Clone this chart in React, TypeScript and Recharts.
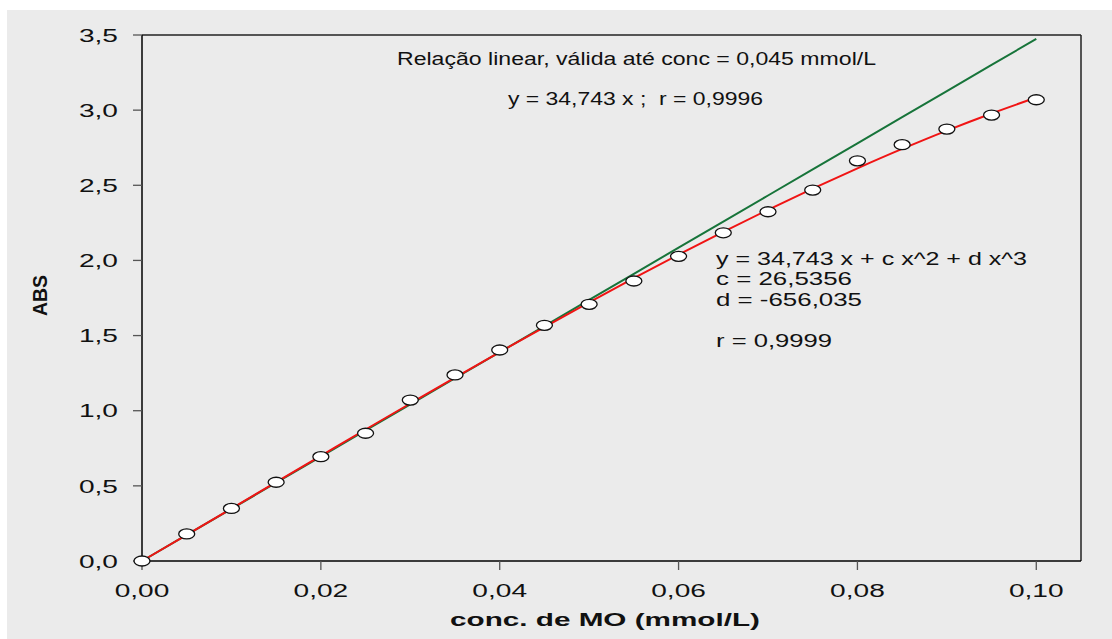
import React from 'react';
import { ComposedChart, Line, Scatter, XAxis, YAxis, ReferenceLine } from 'recharts';

const conc = [0, 0.005, 0.01, 0.015, 0.02, 0.025, 0.03, 0.035, 0.04, 0.045, 0.05, 0.055, 0.06, 0.065, 0.07, 0.075, 0.08, 0.085, 0.09, 0.095, 0.1];
const absMeasured = [0, 0.18, 0.35, 0.524, 0.694, 0.85, 1.071, 1.238, 1.404, 1.568, 1.708, 1.863, 2.027, 2.184, 2.324, 2.468, 2.663, 2.77, 2.874, 2.967, 3.069];
const absCubicFit = [0, 0.174, 0.349, 0.525, 0.7, 0.875, 1.048, 1.22, 1.39, 1.557, 1.721, 1.882, 2.038, 2.19, 2.337, 2.478, 2.613, 2.742, 2.864, 2.978, 3.084];
const absLinearFit = [0, 0.174, 0.347, 0.521, 0.695, 0.869, 1.042, 1.216, 1.39, 1.563, 1.737, 1.911, 2.085, 2.258, 2.432, 2.606, 2.779, 2.953, 3.127, 3.301, 3.474];
const xTicks = [0, 0.02, 0.04, 0.06, 0.08, 0.1];
const yTicks = [0, 0.5, 1, 1.5, 2, 2.5, 3, 3.5];

const xLabel = 'conc. de MO (mmol/L)';
const yLabel = 'ABS';
const noteLinear = 'Relação linear, válida até conc = 0,045 mmol/L';
const noteLinearEq = 'y = 34,743 x ;  r = 0,9996';
const noteCubic = ['y = 34,743 x + c x^2 + d x^3', 'c = 26,5356', 'd = -656,035', 'r = 0,9999'];

const data = conc.map((x, i) => ({ x, obs: absMeasured[i], cubic: absCubicFit[i], lin: absLinearFit[i] }));

const FONT = '"Liberation Sans", Arial, Helvetica, sans-serif';
const SX = 1.48;

const fmtX = (v: number) => v.toFixed(2).replace('.', ',');
const fmtY = (v: number) => v.toFixed(1).replace('.', ',');

const XTick = (props: any) => {
  const { x, y, payload } = props;
  return (
    <g transform={`translate(${x},${y})`}>
      <text x={0} y={0} dy="0.71em" textAnchor="middle" transform={`scale(${SX},1)`} fontFamily={FONT} fontSize={19} fill="#111">
        {fmtX(payload.value)}
      </text>
    </g>
  );
};

const YTick = (props: any) => {
  const { x, y, payload } = props;
  return (
    <g transform={`translate(${x},${y})`}>
      <text x={0} y={0} dy="0.355em" textAnchor="end" transform={`scale(${SX},1)`} fontFamily={FONT} fontSize={19} fill="#111">
        {fmtY(payload.value)}
      </text>
    </g>
  );
};

const Dot = (props: any) => {
  const { cx, cy } = props;
  return <ellipse cx={cx} cy={cy} rx={8} ry={5} fill="#ffffff" stroke="#111" strokeWidth={1.3} />;
};

export default function App() {
  const cubicLines = [
    { t: noteCubic[0], y: 265, w: 311 },
    { t: noteCubic[1], y: 285, w: 136 },
    { t: noteCubic[2], y: 306, w: 146 },
    { t: noteCubic[3], y: 347, w: 116 },
  ];
  return (
    <div style={{ position: 'absolute', left: 0, top: 0, width: 1112, height: 639 }}>
      <div style={{ position: 'absolute', left: 7, top: 10, width: 1105, height: 629, background: '#ebebeb' }} />
      <div style={{ position: 'absolute', left: 0, top: 0 }}>
        <ComposedChart width={1112} height={639} data={data} margin={{ top: 35, right: 31, left: 82, bottom: 38 }}>
          <XAxis
            dataKey="x"
            type="number"
            domain={[0, 0.105]}
            ticks={xTicks}
            tick={<XTick />}
            tickSize={9}
            tickMargin={14}
            height={40}
            axisLine={{ stroke: '#000', strokeWidth: 1.5 }}
            tickLine={{ stroke: '#555', strokeWidth: 1.3 }}
            interval={0}
          />
          <YAxis
            type="number"
            domain={[0, 3.5]}
            ticks={yTicks}
            tick={<YTick />}
            tickSize={9}
            tickMargin={15}
            width={60}
            axisLine={{ stroke: '#000', strokeWidth: 1.5 }}
            tickLine={{ stroke: '#555', strokeWidth: 1.3 }}
            interval={0}
          />
          <ReferenceLine y={3.5} stroke="#222" strokeWidth={1.5} />
          <ReferenceLine x={0.105} stroke="#222" strokeWidth={1.5} />
          <Line dataKey="lin" type="linear" stroke="#17743a" strokeWidth={2} dot={false} isAnimationActive={false} />
          <Line dataKey="cubic" type="monotone" stroke="#f01414" strokeWidth={2} dot={false} isAnimationActive={false} />
          <Scatter dataKey="obs" shape={<Dot />} isAnimationActive={false} />
        </ComposedChart>
      </div>
      <svg width={1112} height={639} style={{ position: 'absolute', left: 0, top: 0, pointerEvents: 'none' }}>
        <text x={397} y={65} fontFamily={FONT} fontSize={17.5} fill="#111" textLength={479} lengthAdjust="spacingAndGlyphs" xmlSpace="preserve">
          {noteLinear}
        </text>
        <text x={508} y={105} fontFamily={FONT} fontSize={17.5} fill="#111" textLength={255} lengthAdjust="spacingAndGlyphs" style={{ whiteSpace: 'pre' }}>
          {noteLinearEq}
        </text>
        {cubicLines.map((l, i) => (
          <text key={i} x={716} y={l.y} fontFamily={FONT} fontSize={17.5} fill="#111" textLength={l.w} lengthAdjust="spacingAndGlyphs">
            {l.t}
          </text>
        ))}
        <text x={450} y={626} fontFamily={FONT} fontSize={18.5} fontWeight="bold" fill="#111" textLength={310} lengthAdjust="spacingAndGlyphs">
          {xLabel}
        </text>
        <text
          x={0}
          y={0}
          transform="translate(46.7,295.5) rotate(-90)"
          textAnchor="middle"
          fontFamily={FONT}
          fontSize={19.5}
          fontWeight="bold"
          fill="#111"
          textLength={41}
          lengthAdjust="spacingAndGlyphs"
        >
          {yLabel}
        </text>
      </svg>
    </div>
  );
}
